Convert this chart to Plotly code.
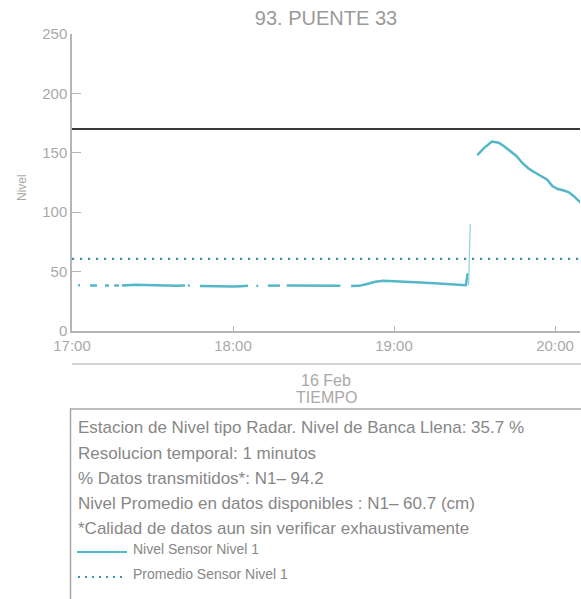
import pandas as pd
import plotly.graph_objects as go

# ---- data (minutes after 17:00 on 16 Feb) ----
base = pd.Timestamp("2021-02-16 17:00")
nivel_min = [2.3, 3.0, None,
             6.7, 9.3, None,
             12.3, 13.8, None,
             15.7, 17.5, None,
             18.6, 21, 24, 27, 30, 33, 36, 39, 42.1, None,
             43.2, 43.9, None,
             47.7, 51, 54, 57, 60, 63, 65.6, None,
             68.7, 69.4, None,
             73, 77.5, None,
             80, 84, 88, 92, 96, 100, None,
             104, 107, 110, 113, 116, 120, 125, 130, 135, 140, 145, 146.8, 147.4, None,
             151, 153.5, 156.5, 159, 161, 163, 165.5, 168, 170, 172, 174.4, 177, 179, 181, 183, 185, 187, 189.5]
nivel_val = [38.5, 38.5, None,
             38.3, 38.3, None,
             38.3, 38.3, None,
             38.3, 38.3, None,
             38.3, 38.8, 39.0, 38.8, 38.5, 38.2, 38.0, 38.0, 38.2, None,
             38.3, 38.3, None,
             37.8, 37.6, 37.5, 37.6, 37.5, 37.7, 38.0, None,
             38.0, 38.0, None,
             38.2, 38.2, None,
             38.3, 38.2, 38.0, 38.0, 37.9, 38.0, None,
             37.8, 38.0, 39.5, 41.5, 42.3, 42.0, 41.4, 40.8, 40.1, 39.4, 38.7, 38.5, 48.5, None,
             148, 154, 159.5, 158.5, 155.5, 152, 147.5, 141, 137, 134, 131, 127.5, 122, 119.5, 118.5, 117, 113.5, 108]
salto_min = [147.8, 148.4]
salto_val = [38.5, 90]
promedio = 60.7
banca_llena = 170
x_range_min = [0, 189.3]
y_range = [0, 250]
y_ticks = [0, 50, 100, 150, 200, 250]

titulo = "93. PUENTE 33"
info_lines = [
    "Estacion de Nivel tipo Radar. Nivel de Banca Llena: 35.7 %",
    "Resolucion temporal: 1 minutos",
    "% Datos transmitidos*: N1\u2013 94.2",
    "Nivel Promedio en datos disponibles : N1\u2013 60.7 (cm)",
    "*Calidad de datos aun sin verificar exhaustivamente",
]
legend_names = ["Nivel Sensor Nivel 1", "Promedio Sensor Nivel 1"]


def t(m):
    return None if m is None else base + pd.Timedelta(minutes=m)


xs = [t(m) for m in nivel_min]
x0, x1 = t(x_range_min[0]), t(x_range_min[1])

TEAL = "#52b7c8"
DOT = "#3d93ab"
GRAY = "#a9a9a9"
TXT = "#878787"

fig = go.Figure()
fig.add_trace(go.Scatter(x=[x0, x1], y=[banca_llena] * 2, mode="lines",
                         line=dict(color="#3a3a3a", width=2), hoverinfo="skip"))
fig.add_trace(go.Scatter(x=[x0, x1], y=[promedio] * 2, mode="lines",
                         line=dict(color=DOT, width=2.2, dash="2.2px,5.8px"), name=legend_names[1]))
fig.add_trace(go.Scatter(x=xs, y=nivel_val, mode="lines", connectgaps=False,
                         line=dict(color=TEAL, width=2.5), name=legend_names[0]))
fig.add_trace(go.Scatter(x=[t(m) for m in salto_min], y=salto_val, mode="lines",
                         line=dict(color="#8fd2dc", width=1.2), hoverinfo="skip"))

# plot area in page pixels (body margin removed by post_script)
L, R, T, B = 72, 580, 34, 331
W, H = 581, 599


def px(x):
    return (x - L) / (R - L)


def py(y):
    return (B - y) / (B - T)


shapes = [
    dict(type="line", xref="paper", yref="paper", x0=px(72), x1=px(600), y0=py(364), y1=py(364),
         line=dict(color="#c4c4c4", width=1.5)),
    dict(type="rect", xref="paper", yref="paper", x0=px(70.5), x1=px(600), y0=py(409), y1=py(620),
         line=dict(color="#a8a8a8", width=1.5)),
    dict(type="line", xref="paper", yref="paper", x0=px(77), x1=px(127), y0=py(552), y1=py(552),
         line=dict(color=TEAL, width=2)),
    dict(type="line", xref="paper", yref="paper", x0=px(78), x1=px(127), y0=py(577), y1=py(577),
         line=dict(color=DOT, width=2, dash="2px,5px")),
]

ann = [
    dict(text="16 Feb", x=0.5, y=py(381), xref="paper", yref="paper", showarrow=False,
         font=dict(size=16, color=GRAY), xanchor="center", yanchor="middle"),
    dict(text="TIEMPO", x=0.5, y=py(397), xref="paper", yref="paper", showarrow=False,
         font=dict(size=16, color=GRAY), xanchor="center", yanchor="middle"),
    dict(text="Nivel", x=px(22), y=py(188), xref="paper", yref="paper", showarrow=False,
         textangle=-90, font=dict(size=12, color=GRAY), xanchor="center", yanchor="middle"),
]
line_y = [427, 453, 478, 503, 528]
for s, yy in zip(info_lines, line_y):
    ann.append(dict(text=s, x=px(76), y=py(yy), xref="paper", yref="paper", showarrow=False,
                    font=dict(size=17, color=TXT), xanchor="left", yanchor="middle"))
for s, yy in zip(legend_names, [549, 574]):
    ann.append(dict(text=s, x=px(131), y=py(yy), xref="paper", yref="paper", showarrow=False,
                    font=dict(size=14, color=TXT), xanchor="left", yanchor="middle"))

fig.update_layout(
    width=W, height=H,
    margin=dict(l=L, r=W - R, t=T, b=H - B, pad=0),
    paper_bgcolor="white", plot_bgcolor="white",
    showlegend=False,
    font=dict(family="Liberation Sans, Arial, sans-serif", color=GRAY),
    title=dict(text=titulo, x=0.5, xref="paper", y=1 - 18 / H, yanchor="middle",
               font=dict(size=20, color="#9a9a9a")),
    shapes=shapes, annotations=ann,
    xaxis=dict(type="date", range=[x0, x1], tickformat="%H:%M", dtick=3600000,
               tick0=base, showgrid=False, zeroline=False,
               showline=True, linecolor="#b5b5b5", linewidth=1.5,
               ticks="inside", ticklen=5, tickcolor="#b5b5b5", tickwidth=1,
               tickfont=dict(size=15, color=GRAY)),
    yaxis=dict(range=y_range, tickvals=y_ticks, showgrid=False, zeroline=False,
               showline=True, linecolor="#b5b5b5", linewidth=1.5,
               ticks="inside", ticklen=9, tickcolor="#b5b5b5", tickwidth=1,
               tickfont=dict(size=15, color=GRAY)),
)

fig.write_html("out.html", config={"displayModeBar": False},
               post_script="document.body.style.margin='0';document.body.style.overflow='hidden';")
